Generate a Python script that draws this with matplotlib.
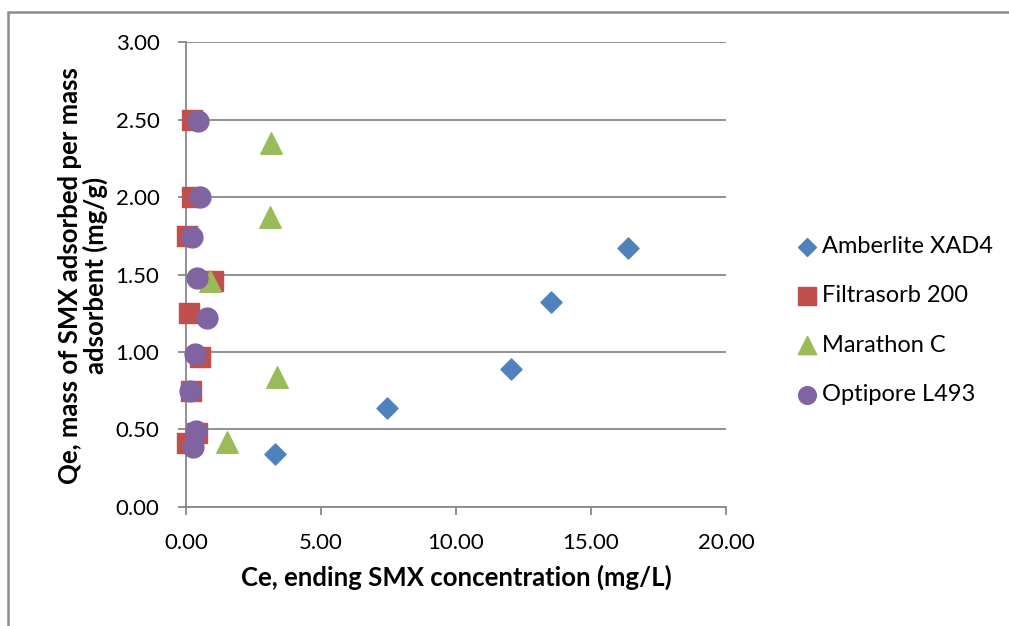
import matplotlib.pyplot as plt
from matplotlib.patches import Rectangle

# data
amb_x = [3.30, 7.44, 12.04, 13.52, 16.37]
amb_y = [0.34, 0.64, 0.89, 1.32, 1.67]

fil_x = [0.22, 0.22, 0.04, 1.00, 0.11, 0.52, 0.17, 0.40, 0.03]
fil_y = [2.50, 2.00, 1.75, 1.46, 1.25, 0.97, 0.75, 0.48, 0.41]

mar_x = [3.15, 3.11, 0.89, 3.37, 1.52]
mar_y = [2.35, 1.87, 1.46, 0.84, 0.42]

opt_x = [0.44, 0.52, 0.23, 0.40, 0.78, 0.33, 0.15, 0.37, 0.27]
opt_y = [2.49, 2.00, 1.74, 1.48, 1.22, 0.99, 0.75, 0.49, 0.39]

plt.rcParams['font.family'] = ['Lato', 'DejaVu Sans']

fig = plt.figure(figsize=(10.09, 6.26), dpi=100)
ax = fig.add_axes([0.1843, 0.1901, 0.5352, 0.7428])

grid_c = '#888888'
ax.scatter(amb_x, amb_y, marker='D', s=115, color='#4F81BD', label='Amberlite XAD4',
           zorder=3, clip_on=False)
ax.scatter(fil_x, fil_y, marker='s', s=220, color='#C0504D', label='Filtrasorb 200',
           zorder=3, clip_on=False)
ax.scatter(mar_x, mar_y, marker='^', s=240, color='#9BBB59', label='Marathon C',
           zorder=3, clip_on=False)
ax.scatter(opt_x, opt_y, marker='o', s=225, color='#8064A2', label='Optipore L493',
           zorder=3, clip_on=False)

ax.set_xlim(0, 20)
ax.set_ylim(0, 3)
ax.set_xticks([0, 5, 10, 15, 20])
ax.set_yticks([0, 0.5, 1.0, 1.5, 2.0, 2.5, 3.0])
ax.xaxis.set_major_formatter(lambda v, p: f'{v:.2f}')
ax.yaxis.set_major_formatter(lambda v, p: f'{v:.2f}')
ax.grid(axis='y', color=grid_c, lw=1.3)
ax.set_axisbelow(True)
for s in ['top', 'right']:
    ax.spines[s].set_visible(False)
for s in ['left', 'bottom']:
    ax.spines[s].set_color(grid_c)
    ax.spines[s].set_linewidth(1.3)
ax.tick_params(colors=grid_c, labelcolor='black', labelsize=16, length=6, width=1.3,
               direction='out')
ax.tick_params(axis='y', pad=13)
ax.tick_params(axis='x', pad=13)

ax.set_xlabel('Ce, ending SMX concentration (mg/L)', fontsize=18.5, fontweight='bold',
              labelpad=8)
fig.text(83 / 1009, 0.56, 'Qe, mass of SMX adsorbed per mass\nadsorbent (mg/g)',
         rotation=90, ha='center', va='center', fontsize=18.5, fontweight='bold',
         multialignment='center', linespacing=1.0)

fig.legend(loc='center left', bbox_to_anchor=(783 / 1009, 0.488), frameon=False,
           fontsize=17, handlelength=1.0, handletextpad=0.15, labelspacing=1.2,
           markerscale=0.85, borderpad=0)

fig.patches.append(Rectangle((8 / 1009, -0.1), 1.2, (626 - 12) / 626 + 0.1,
                             transform=fig.transFigure, fill=False,
                             edgecolor='#8c8c8c', lw=1.8))

fig.savefig('out.png', dpi=100)
